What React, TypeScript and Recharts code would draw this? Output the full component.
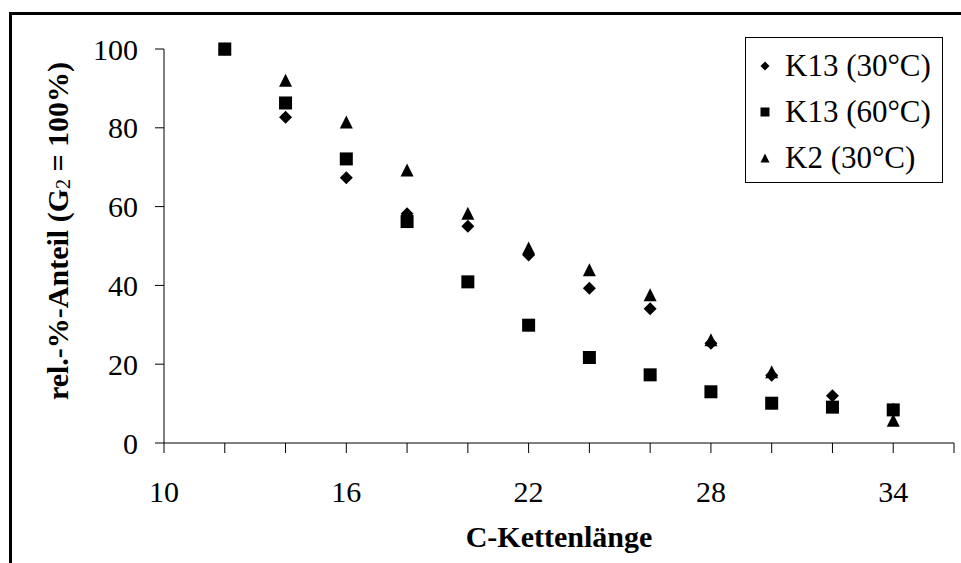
import { Legend, Scatter, ScatterChart, XAxis, YAxis } from 'recharts';

const FONT = "'Liberation Serif', 'Times New Roman', serif";

const chainLength = [12, 14, 16, 18, 20, 22, 24, 26, 28, 30, 32, 34];
const k13At30 = [100, 82.7, 67.3, 58.2, 55.0, 47.7, 39.3, 34.1, 25.3, 17.2, 12.0, 8.5];
const k13At60 = [100, 86.3, 72.1, 56.2, 40.9, 29.9, 21.7, 17.3, 13.0, 10.1, 9.1, 8.4];
const k2At30 = [100, 92.1, 81.5, 69.3, 58.3, 49.5, 44.0, 37.6, 26.2, 18.1, 9.5, 5.8];

const seriesNames = ['K13 (30°C)', 'K13 (60°C)', 'K2 (30°C)'];

const xTicks = [10, 12, 14, 16, 18, 20, 22, 24, 26, 28, 30, 32, 34, 36];
const xTickLabels = [10, 16, 22, 28, 34];
const yTicks = [0, 20, 40, 60, 80, 100];

const toPoints = (values: number[]) => chainLength.map((x, i) => ({ x, y: values[i] }));

const Diamond = ({ cx, cy, r = 6.5 }: any) => (
	<polygon points={`${cx},${cy - r} ${cx + r},${cy} ${cx},${cy + r} ${cx - r},${cy}`} fill="#000" />
);

const Square = ({ cx, cy, r = 6.5 }: any) => <rect x={cx - r} y={cy - r} width={2 * r} height={2 * r} fill="#000" />;

const Triangle = ({ cx, cy, r = 6.5 }: any) => (
	<polygon points={`${cx},${cy - r} ${cx + r},${cy + r} ${cx - r},${cy + r}`} fill="#000" />
);

const markers = [Diamond, Square, Triangle];

const renderLegend = () => (
	<div
		style={{
			width: 198,
			height: 146,
			boxSizing: 'border-box',
			border: '1px solid #000',
			background: '#fff',
			paddingTop: 5,
			fontFamily: FONT,
			fontSize: 31,
			color: '#000',
		}}
	>
		{seriesNames.map((name, i) => {
			const Marker = markers[i];
			return (
				<div key={name} style={{ height: 46, lineHeight: '46px', position: 'relative', whiteSpace: 'nowrap' }}>
					<svg width={12} height={12} style={{ position: 'absolute', left: 13, top: 17 }}>
						<Marker cx={6} cy={6} r={4.5} />
					</svg>
					<span style={{ position: 'absolute', left: 39 }}>{name}</span>
				</div>
			);
		})}
	</div>
);

const XTitle = () => (
	<text x={559} y={547} textAnchor="middle" fontFamily={FONT} fontSize={30} fontWeight="bold" fill="#000">
		C-Kettenlänge
	</text>
);

const YTitle = () => (
	<text
		x={57}
		y={231}
		textAnchor="middle"
		dominantBaseline="central"
		transform="rotate(-90 57 231)"
		fontFamily={FONT}
		fontSize={30}
		fontWeight="bold"
		fill="#000"
	>
		rel.-%-Anteil (G
		<tspan fontSize={20} fontWeight="normal" dy={6}>
			2
		</tspan>
		<tspan dy={-6}> = 100%)</tspan>
	</text>
);

export default function App() {
	return (
		<div style={{ position: 'absolute', left: 0, top: 0, width: 961, height: 563, background: '#fff' }}>
			<ScatterChart width={961} height={563} margin={{ top: 49, right: 7, bottom: 0, left: 0 }}>
				<XAxis
					type="number"
					dataKey="x"
					domain={[10, 36]}
					ticks={xTicks}
					tickFormatter={(v: number) => (xTickLabels.includes(v) ? String(v) : '')}
					interval={0}
					height={120}
					tickSize={10}
					tickMargin={28}
					stroke="#000"
					tick={{ fill: '#000', fontFamily: FONT, fontSize: 30 }}
					label={XTitle}
				/>
				<YAxis
					type="number"
					dataKey="y"
					domain={[0, 100]}
					ticks={yTicks}
					interval={0}
					width={164}
					tickSize={9}
					tickMargin={17}
					stroke="#000"
					tick={{ fill: '#000', fontFamily: FONT, fontSize: 30 }}
					label={YTitle}
				/>
				<Scatter name={seriesNames[0]} data={toPoints(k13At30)} shape={Diamond} isAnimationActive={false} />
				<Scatter name={seriesNames[1]} data={toPoints(k13At60)} shape={Square} isAnimationActive={false} />
				<Scatter name={seriesNames[2]} data={toPoints(k2At30)} shape={Triangle} isAnimationActive={false} />
				<Legend
					layout="vertical"
					align="center"
					verticalAlign="middle"
					content={renderLegend}
					wrapperStyle={{ left: 745, top: 37, width: 198, height: 146 }}
				/>
			</ScatterChart>
			<div
				style={{
					position: 'absolute',
					left: 9,
					top: 12,
					right: 0,
					bottom: 0,
					borderTop: '3px solid #000',
					borderLeft: '3px solid #000',
					pointerEvents: 'none',
				}}
			/>
		</div>
	);
}
